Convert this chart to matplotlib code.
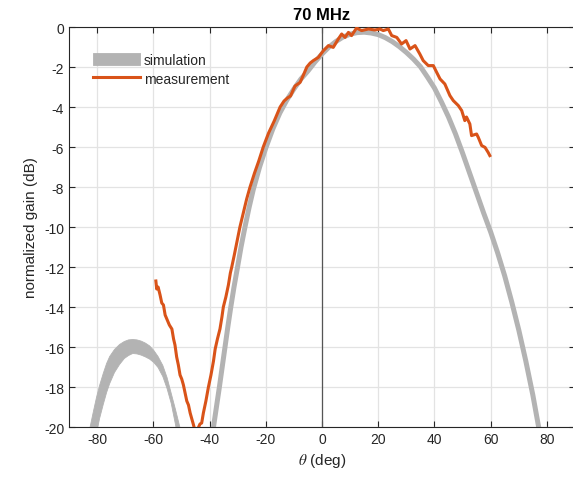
import numpy as np
import matplotlib
matplotlib.use("Agg")
import matplotlib.pyplot as plt

plt.rcParams['font.family'] = ['Liberation Sans', 'DejaVu Sans']
plt.rcParams['axes.unicode_minus'] = False
plt.rcParams['mathtext.fontset'] = 'stix'

# ---------------- data ----------------
title_text = "70 MHz"
x_label = r"$\theta$ (deg)"
y_label = "normalized gain (dB)"
x_ticks = [-80, -60, -40, -20, 0, 20, 40, 60, 80]
y_ticks = [0, -2, -4, -6, -8, -10, -12, -14, -16, -18, -20]

# simulation: side lobe band (upper / lower edges)
side_theta = [-83.0, -82.6, -81.5, -80.4, -79.3, -78.0, -76.8, -75.7, -74.0, -72.2,
              -70.5, -69.0, -67.5, -66.0, -64.5, -63.0, -61.5, -60.0, -58.5, -56.8,
              -55.3, -53.8, -52.3, -50.8, -50.2]
side_upper = [-20.2, -19.93, -19.2, -18.5, -17.9, -17.3, -16.8, -16.45, -16.1, -15.85,
              -15.7, -15.62, -15.6, -15.62, -15.68, -15.78, -15.92, -16.15, -16.45, -16.9,
              -17.5, -18.3, -19.1, -19.95, -20.3]
side_lower = [-22.6, -22.2, -21.3, -20.3, -19.55, -18.85, -18.25, -17.8, -17.25, -16.85,
              -16.55, -16.4, -16.3, -16.32, -16.38, -16.47, -16.58, -16.75, -17.0, -17.45,
              -18.05, -18.8, -19.85, -21.0, -21.5]

# simulation: main lobe
main_theta = [-39.0, -38.6, -37.5, -36.5, -35.5, -34.5, -33.5, -32.5, -31.3, -30.1,
              -28.8, -27.4, -25.9, -24.4, -22.2, -20.0, -17.5, -15.0, -12.5, -10.0,
              -7.5, -5.0, -2.5, 0.0, 2.5, 5.0, 7.5, 10.0, 12.5, 15.0,
              17.5, 20.0, 22.5, 25.0, 27.5, 30.0, 32.5, 35.0, 37.5, 40.0,
              42.5, 45.0, 47.5, 50.0, 52.5, 55.0, 57.5, 60.0, 62.5, 65.0,
              67.5, 70.0, 72.5, 75.0, 77.0, 78.0]
main_gain = [-20.4, -20.0, -18.95, -18.0, -17.0, -16.0, -15.0, -14.05, -13.0, -12.05,
             -11.0, -10.0, -9.0, -8.1, -7.0, -6.05, -5.1, -4.3, -3.65, -3.1,
             -2.6, -2.2, -1.75, -1.35, -1.0, -0.72, -0.5, -0.36, -0.28, -0.26,
             -0.3, -0.38, -0.53, -0.73, -0.98, -1.27, -1.6, -1.98, -2.5, -3.05,
             -3.75, -4.5, -5.35, -6.3, -7.3, -8.3, -9.3, -10.25, -11.3, -12.45,
             -13.75, -15.15, -16.7, -18.4, -19.95, -20.7]

# measurement
meas_theta = [-59.1, -58.8, -58.3, -57.6, -57.0, -56.4, -55.8, -55.2, -54.3, -53.4,
              -52.8, -52.3, -51.7, -51.1, -50.5, -49.9, -49.3, -48.7, -48.1, -47.5,
              -46.9, -46.3, -45.7, -45.0, -44.2, -43.4, -42.8, -42.2, -41.3, -40.4,
              -39.5, -38.6, -38.0, -37.2, -36.3, -35.6, -35.1, -34.2, -33.3, -32.6,
              -32.1, -31.2, -30.2, -29.2, -28.0, -26.8, -25.6, -24.0, -22.5, -20.9,
              -19.0, -17.0, -14.9, -13.5, -12.3, -11.2, -9.6, -7.8, -6.6, -5.4,
              -4.2, -3.1, -1.3, 0.5, 2.3, 4.0, 5.8, 7.0, 8.2, 9.4,
              10.5, 12.3, 14.1, 16.5, 18.8, 20.6, 21.8, 23.6, 24.8, 26.6,
              28.3, 29.9, 31.3, 33.1, 34.8, 36.0, 37.8, 39.6, 40.8, 42.0,
              43.7, 45.5, 46.7, 48.5, 49.7, 50.8, 51.4, 52.6, 53.2, 55.0,
              55.6, 56.8, 58.0, 59.1, 59.7]
meas_gain = [-12.7, -13.1, -13.0, -13.4, -13.8, -13.9, -14.4, -14.6, -14.9, -15.1,
             -15.6, -15.9, -16.5, -16.9, -17.4, -17.6, -17.9, -18.3, -18.7, -18.9,
             -19.3, -19.6, -19.9, -20.3, -20.1, -19.85, -19.8, -19.3, -18.7, -18.0,
             -17.4, -16.7, -16.1, -15.6, -15.1, -14.5, -14.0, -13.5, -12.9, -12.3,
             -12.0, -11.4, -10.7, -10.0, -9.3, -8.6, -8.0, -7.3, -6.7, -6.0,
             -5.3, -4.7, -4.0, -3.7, -3.55, -3.45, -2.95, -2.77, -2.4, -2.0,
             -1.8, -1.68, -1.52, -1.18, -0.93, -1.02, -0.6, -0.35, -0.52, -0.27,
             -0.43, -0.05, -0.18, -0.1, -0.15, -0.1, -0.18, -0.1, -0.43, -0.52,
             -0.85, -0.68, -1.1, -0.93, -1.35, -1.68, -1.93, -1.93, -2.27, -2.6,
             -2.85, -3.43, -3.68, -3.93, -4.18, -4.68, -4.5, -4.85, -5.43, -5.35,
             -5.52, -5.93, -6.02, -6.27, -6.43]

# ---------------- styles ----------------
gray = '#b3b3b3'
orange = '#d95319'
txt = '#262626'

fig = plt.figure(figsize=(5.73, 4.81), dpi=100)
ax = fig.add_axes([69 / 573, 53 / 481, 506 / 573, 400 / 481])

sim = ax.fill_between(side_theta, side_lower, side_upper, color=gray, lw=0.6,
                      edgecolor=gray, label='simulation', zorder=2)
ax.plot(main_theta, main_gain, color=gray, lw=3.6, solid_capstyle='butt', zorder=2)
meas, = ax.plot(meas_theta, meas_gain, color=orange, lw=2.2, label='measurement', zorder=3)

ax.axvline(0, color='#555555', lw=0.9, zorder=1.5)

ax.set_xlim(-90, 90)
ax.set_ylim(-20, 0)
ax.set_xticks(x_ticks)
ax.set_yticks(y_ticks)
ax.grid(True, color='#e3e3e3', lw=0.9)
ax.set_axisbelow(True)
ax.tick_params(direction='in', length=4, width=0.8, colors=txt, labelsize=10,
               top=True, right=True)
for s in ax.spines.values():
    s.set_color(txt)
    s.set_linewidth(0.8)

ax.set_title(title_text, fontsize=12, fontweight='bold', color='black', pad=6)
ax.set_xlabel(x_label, fontsize=11, color=txt, labelpad=4)
ax.set_ylabel(y_label, fontsize=11, color=txt, labelpad=4)

leg = ax.legend(handles=[sim, meas], loc='upper left', bbox_to_anchor=(0.0476, 0.935),
                frameon=False, fontsize=10, handlelength=3.4, handleheight=0.95,
                handletextpad=0.25, labelspacing=0.35, borderaxespad=0, borderpad=0)
for t in leg.get_texts():
    t.set_color(txt)

fig.savefig('out.png', dpi=100)
